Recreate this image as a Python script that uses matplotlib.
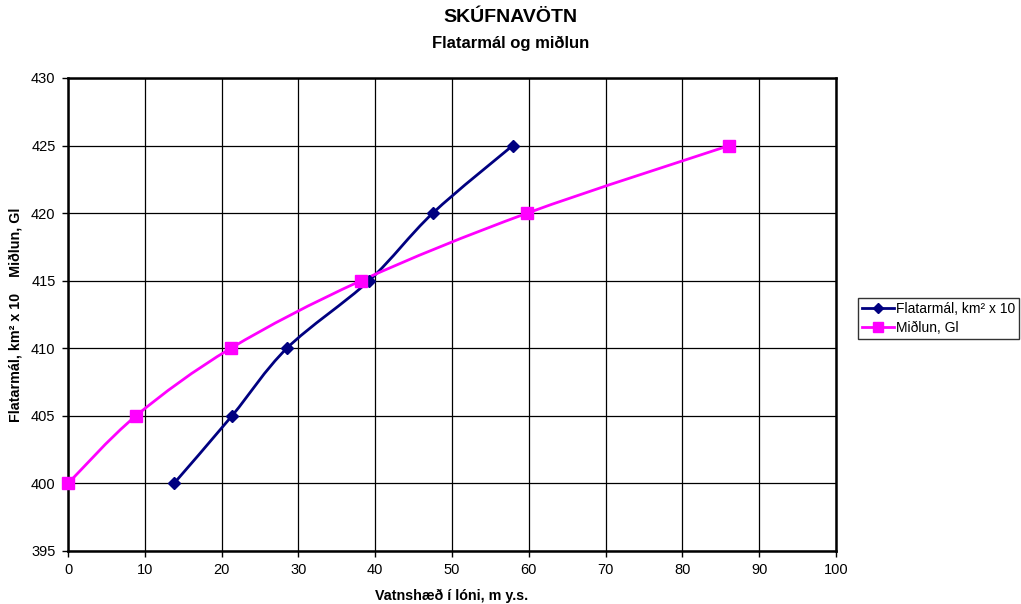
import matplotlib
matplotlib.use('agg')
import matplotlib.pyplot as plt
from matplotlib.path import Path
from matplotlib.patches import PathPatch
from matplotlib.lines import Line2D

plt.rcParams['font.family'] = ['Liberation Sans', 'DejaVu Sans']

# data
hæð = [400, 405, 410, 415, 420, 425]
flatarmal_x = [13.8, 21.35, 28.5, 39.2, 47.5, 57.9]
midlun_x = [0.0, 8.85, 21.2, 38.15, 59.8, 86.1]


def smooth_path(xs, ys):
    # Catmull-Rom as cubic bezier, like the spreadsheet's smoothed line
    pts = list(zip(xs, ys))
    verts = [pts[0]]
    codes = [Path.MOVETO]
    n = len(pts)
    for i in range(n - 1):
        p0 = pts[i - 1] if i > 0 else pts[i]
        p1 = pts[i]
        p2 = pts[i + 1]
        p3 = pts[i + 2] if i + 2 < n else pts[i + 1]
        c1 = (p1[0] + (p2[0] - p0[0]) / 6, p1[1] + (p2[1] - p0[1]) / 6)
        c2 = (p2[0] - (p3[0] - p1[0]) / 6, p2[1] - (p3[1] - p1[1]) / 6)
        verts += [c1, c2, p2]
        codes += [Path.CURVE4] * 3
    return Path(verts, codes)


fig = plt.figure(figsize=(10.21, 6.04), dpi=100)
ax = fig.add_axes([68 / 1021, 1 - 551 / 604, (836 - 68) / 1021, (551 - 78) / 604])

navy = '#000080'
magenta = '#FF00FF'

ax.add_patch(PathPatch(smooth_path(flatarmal_x, hæð), fill=False, edgecolor=navy, lw=2, zorder=3))
ax.add_patch(PathPatch(smooth_path(midlun_x, hæð), fill=False, edgecolor=magenta, lw=2, zorder=3))
ax.plot(flatarmal_x, hæð, ls='none', marker='D', ms=6.5, color=navy, zorder=4, clip_on=False)
ax.plot(midlun_x, hæð, ls='none', marker='s', ms=8, color=magenta, zorder=4, clip_on=False)

ax.set_xlim(0, 100)
ax.set_ylim(395, 430)
ax.set_xticks(range(0, 101, 10))
ax.set_yticks(range(395, 431, 5))
ax.grid(True, color='black', lw=0.9)
ax.set_axisbelow(True)
for s in ax.spines.values():
    s.set_linewidth(1.8)
ax.tick_params(labelsize=10.5, length=4, width=1, direction='out', pad=5)

ax.set_xlabel('Vatnshæð í lóni, m y.s.', fontsize=10.3, fontweight='bold', labelpad=8)
ax.set_ylabel('Flatarmál, km² x 10    Miðlun, Gl', fontsize=10.3, fontweight='bold', labelpad=6)

fig.text(510 / 1021, 1 - 18 / 604, 'SKÚFNAVÖTN', ha='center', va='center',
         fontsize=14, fontweight='bold')
fig.text(511 / 1021, 1 - 43 / 604, 'Flatarmál og miðlun', ha='center', va='center',
         fontsize=12, fontweight='bold')

handles = [Line2D([], [], color=navy, lw=2, marker='D', ms=5.5),
           Line2D([], [], color=magenta, lw=2, marker='s', ms=7)]
leg = fig.legend(handles, ['Flatarmál, km² x 10', 'Miðlun, Gl'], loc='upper left',
                 bbox_to_anchor=(858 / 1021, 1 - 298 / 604), fontsize=10, frameon=True,
                 fancybox=False, edgecolor='black', borderpad=0.3, handlelength=2.3,
                 handletextpad=0.1, labelspacing=0.35, borderaxespad=0)
leg.get_frame().set_linewidth(1)

fig.savefig('out.png', dpi=100)
